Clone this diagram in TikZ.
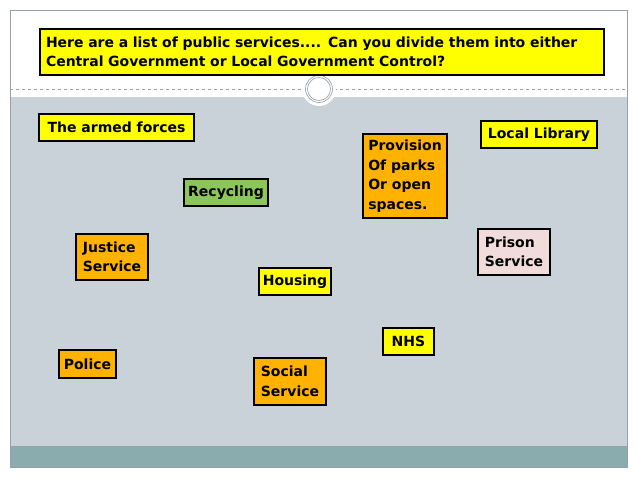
\documentclass[tikz,border=0pt]{standalone}
\usepackage{fontspec}
\setmainfont{DejaVu Sans}
\definecolor{slidegray}{RGB}{200,210,216}
\definecolor{bandteal}{RGB}{138,172,174}
\definecolor{framegray}{RGB}{150,160,168}
\definecolor{cardyellow}{RGB}{255,255,0}
\definecolor{cardorange}{RGB}{255,179,0}
\definecolor{cardgreen}{RGB}{140,198,90}
\definecolor{cardpink}{RGB}{242,220,219}
\begin{document}
\begin{tikzpicture}[x=1pt, y=-1pt, every node/.style={font=\fontsize{14}{19.5}\selectfont\bfseries},
  box/.style={draw,line width=2pt,align=left,inner sep=3pt}]
\useasboundingbox (0,0) rectangle (638,479);
% slide background
\fill[white] (0,0) rectangle (638,479);
\fill[slidegray] (10,97) rectangle (627,446);
\fill[bandteal] (10,446) rectangle (627,467);
\draw[framegray,line width=0.8pt] (10,10) rectangle (627,467);
\draw[framegray,dashed,line width=0.4pt] (10,89) -- (627,89);
\fill[white] (319,89) circle (17);
\draw[framegray,line width=0.6pt] (319,89) circle (13.5);
\draw[framegray,line width=0.6pt] (319,89) circle (11.5);
% question
\node[box,fill=cardyellow,minimum width=564,minimum height=46,text width=552] (quest) at (322,52)
  {Here are a list of public services.... Can you divide them into either\\Central Government or Local Government Control?};
% services
\node[box,fill=cardyellow,minimum width=155,minimum height=27] (armed) at (116.5,127.5) {The armed forces};
\node[box,fill=cardgreen,minimum width=84,minimum height=27] (recyc) at (226,192.5) {Recycling};
\node[box,fill=cardorange,minimum width=72,minimum height=46] (justice) at (112,257) {Justice\\Service};
\node[box,fill=cardyellow,minimum width=72,minimum height=27] (housing) at (295,281.5) {Housing};
\node[box,fill=cardorange,minimum width=84,minimum height=84] (parks) at (405,176) {Provision\\Of parks\\Or open\\spaces.};
\node[box,fill=cardyellow,minimum width=116,minimum height=27] (library) at (539,134.5) {Local Library};
\node[box,fill=cardpink,minimum width=72,minimum height=46] (prison) at (514,252) {Prison\\Service};
\node[box,fill=cardorange,minimum width=57,minimum height=28] (police) at (87.5,364) {Police};
\node[box,fill=cardorange,minimum width=72,minimum height=47] (social) at (290,381.5) {Social\\Service};
\node[box,fill=cardyellow,minimum width=51,minimum height=27] (nhs) at (408.5,341.5) {NHS};
\end{tikzpicture}
\end{document}
